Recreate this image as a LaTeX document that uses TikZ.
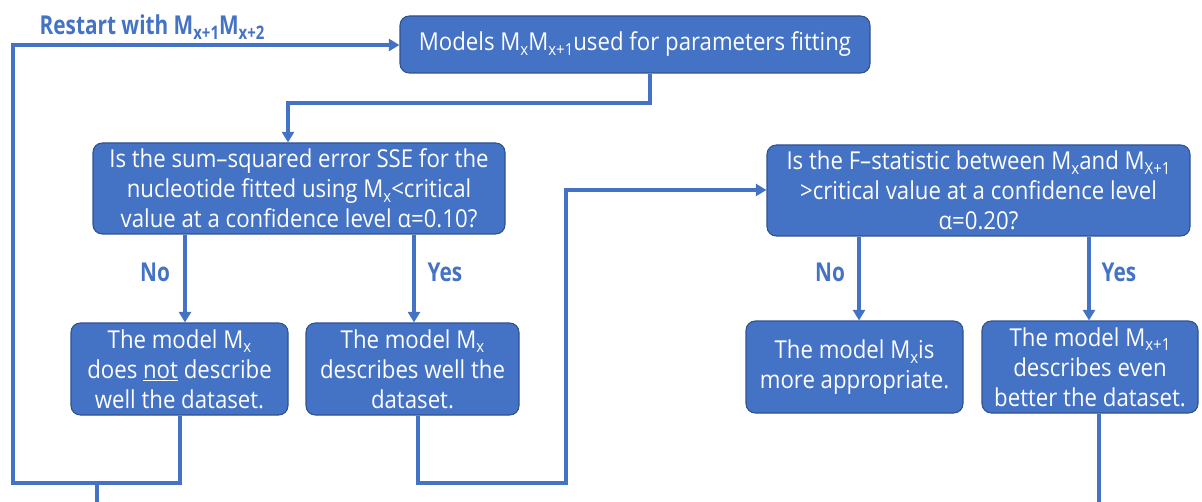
\documentclass[tikz,border=0pt]{standalone}
\usepackage{fontspec}
\setmainfont{Open Sans}[FakeStretch=0.9]
\newfontfamily\lblfont{Open Sans}[FakeStretch=0.8]
\usetikzlibrary{arrows.meta}
\definecolor{boxfill}{HTML}{4472C4}
\definecolor{boxline}{HTML}{2F528F}
\definecolor{linecol}{HTML}{4472C4}
\newcommand{\sbx}[1]{\raisebox{-0.35ex}{\fontsize{12.5}{12.5}\selectfont #1}}
\newcommand{\sbl}[1]{\raisebox{-0.35ex}{\fontsize{14}{14}\selectfont #1}}
\begin{document}
\begin{tikzpicture}[x=0.75pt,y=-0.75pt,
  box/.style={draw=boxline,line width=0.8pt,fill=boxfill,rounded corners=7pt,text=white,align=center,
    inner sep=0pt,font=\fontsize{18.5}{22.5}\selectfont},
  conn/.style={draw=linecol,line width=2.3pt},
  arr/.style={conn,-{Triangle[length=8pt,width=9pt]}},
  lbl/.style={text=linecol,font=\lblfont\fontsize{19.5}{22}\selectfont\bfseries}]
\useasboundingbox (0,0) rectangle (1202,502);
% nodes
\node[box,minimum width=352.5pt,minimum height=42.75pt] (top) at (635,44.5)
  {Models M\sbx{x}M\sbx{x+1}used for parameters fitting};
\node[box,minimum width=309pt,minimum height=68.25pt] (q1) at (299,188.5)
  {Is the sum--squared error SSE for the\\nucleotide fitted using M\sbx{x}<critical\\value at a confidence level α=0.10?};
\node[box,minimum width=162.75pt,minimum height=69pt] (a) at (179.5,369)
  {The model M\sbx{x}\\does \underline{not} describe\\well the dataset.};
\node[box,minimum width=159.75pt,minimum height=69pt] (b) at (412.5,369)
  {The model M\sbx{x}\\describes well the\\dataset.};
\node[box,minimum width=317.25pt,minimum height=68.25pt] (q2) at (978.5,190.5)
  {Is the F--statistic between M\sbx{x}and M\sbx{X+1}\\>critical value at a confidence level\\α=0.20?};
\node[box,minimum width=162.75pt,minimum height=69pt] (c) at (854.5,367)
  {The model M\sbx{x}is\\more appropriate.};
\node[box,minimum width=162pt,minimum height=69pt] (d) at (1090,367)
  {The model M\sbx{x+1}\\describes even\\better the dataset.};
% labels
\node[lbl] (restart) at (152,27) {Restart with M\sbl{x+1}M\sbl{x+2}};
\node[lbl] (no1) at (155,272) {No};
\node[lbl] (yes1) at (445,272) {Yes};
\node[lbl] (no2) at (830,272) {No};
\node[lbl] (yes2) at (1119,272) {Yes};
% coordinates
\coordinate (t1) at (650,103);
\coordinate (t2) at (288,103);
\coordinate (n1) at (185,0);
\coordinate (y1) at (414,0);
\coordinate (n2) at (859,0);
\coordinate (y2) at (1089,0);
\coordinate (a1) at (180,483);
\coordinate (r1) at (97,483);
\coordinate (r0) at (97,502);
\coordinate (r2) at (13,483);
\coordinate (r3) at (13,45);
\coordinate (b1) at (418,483);
\coordinate (b2) at (566,483);
\coordinate (b3) at (566,190);
\coordinate (d1) at (1099,502);
% connectors
\draw[arr] (top.south -| t1) -- (t1) -- (t2) -- (q1.north -| t2);
\draw[arr] (q1.south -| n1) -- (a.north -| n1);
\draw[arr] (q1.south -| y1) -- (b.north -| y1);
\draw[arr] (q2.south -| n2) -- (c.north -| n2);
\draw[arr] (q2.south -| y2) -- (d.north -| y2);
\draw[arr] (a.south -| a1) -- (a1) -- (r2) -- (r3) -- (top.west |- r3);
\draw[conn] (r1) -- (r0);
\draw[arr] (b.south -| b1) -- (b1) -- (b2) -- (b3) -- (q2.west |- b3);
\draw[conn] (d.south -| d1) -- (d1);
\end{tikzpicture}
\end{document}
